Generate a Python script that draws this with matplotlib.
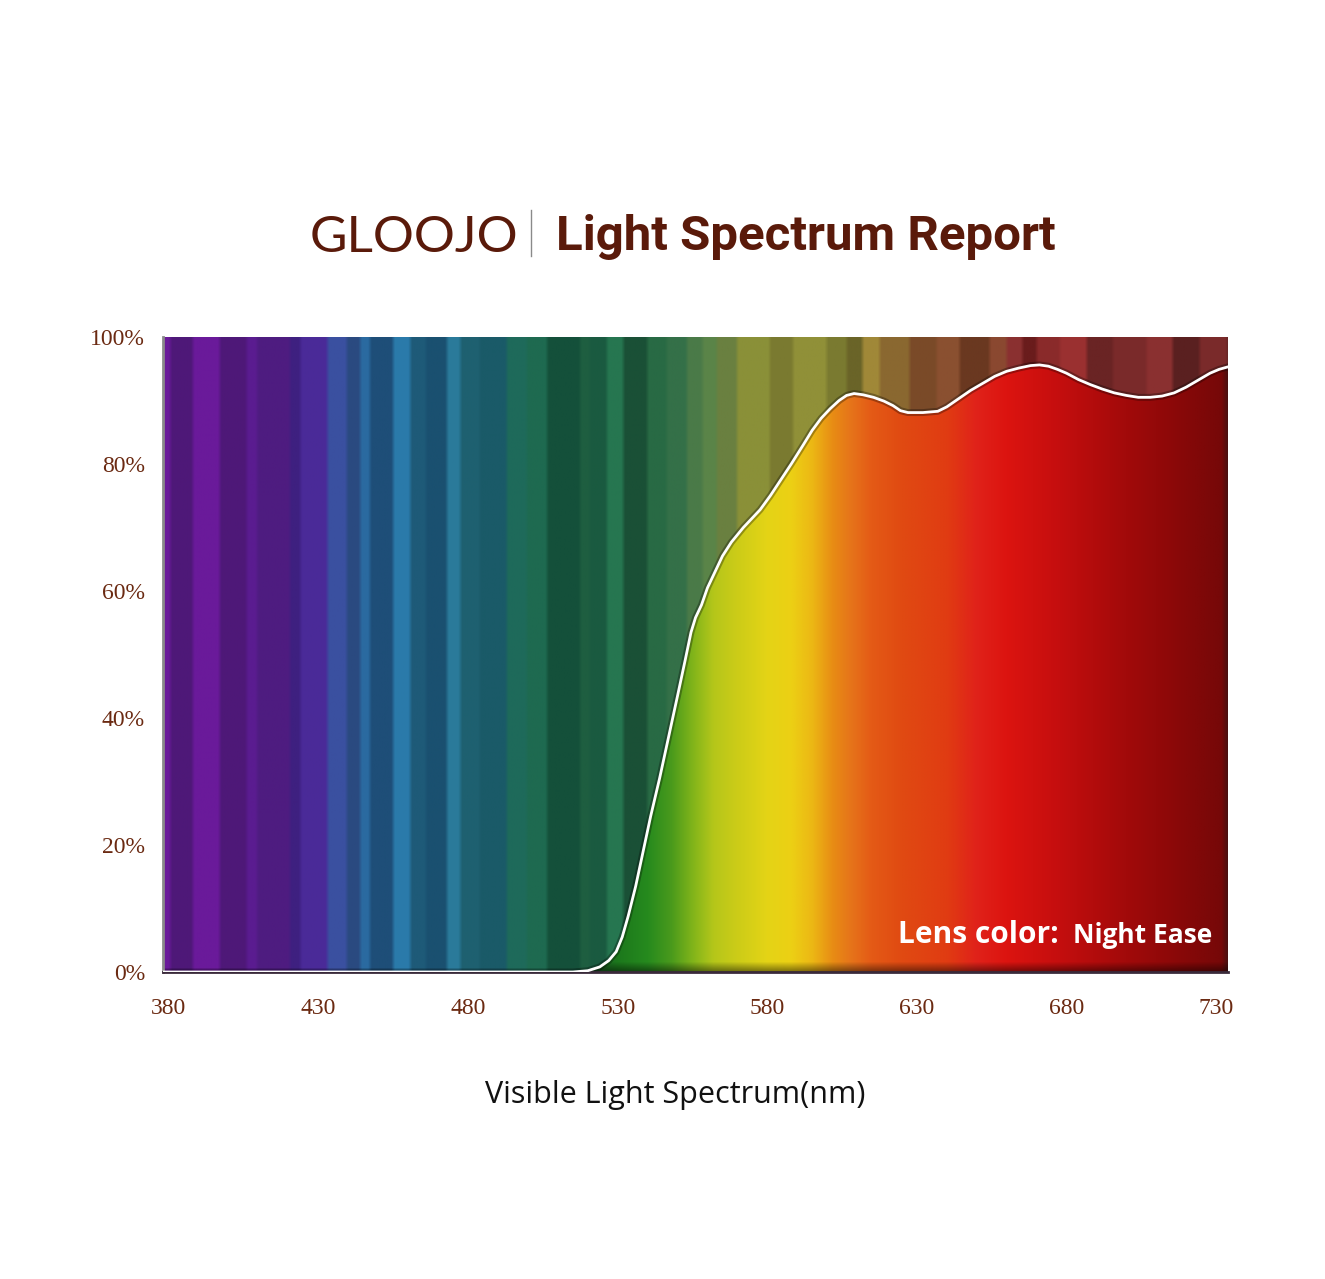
import numpy as np
import matplotlib
matplotlib.use('Agg')
import matplotlib.pyplot as plt
from matplotlib.colors import to_rgb
from matplotlib.lines import Line2D

# ---------------- data ----------------
wavelength = [378, 515, 520, 524, 527, 529.5, 531.5, 533.5, 536, 538.5, 541, 544, 547, 550,
              552.5, 554.5, 556, 558, 560, 562.5, 565, 568, 572, 577.6, 581, 584.5, 588, 592,
              595, 598, 601, 604, 606.5, 609, 612, 615.5, 619, 622, 624.5, 627, 632, 637, 640,
              644, 648, 652, 656, 660, 664, 668, 671, 674, 677, 680, 684, 688, 692, 696, 700,
              704, 708, 712, 716, 720, 724, 728, 731, 734]
transmittance = [0, 0, 0.2, 0.8, 1.8, 3.2, 5.5, 8.8, 13.5, 19, 24.5, 30.5, 37, 43.5,
                 49, 53.5, 55.8, 57.8, 60.5, 63, 65.5, 67.7, 70, 72.8, 75, 77.5, 80, 83,
                 85.3, 87.2, 88.7, 90, 90.8, 91.1, 90.9, 90.5, 89.9, 89.2, 88.4, 88.1, 88.1, 88.3, 89,
                 90.3, 91.6, 92.7, 93.8, 94.6, 95.1, 95.5, 95.6, 95.4, 94.9, 94.3, 93.3, 92.5, 91.8, 91.2, 90.8,
                 90.5, 90.5, 90.7, 91.2, 92.1, 93.2, 94.3, 94.9, 95.3]

x_ticks = [380, 430, 480, 530, 580, 630, 680, 730]
y_ticks = [0, 20, 40, 60, 80, 100]
y_tick_labels = ['0%', '20%', '40%', '60%', '80%', '100%']

brand = 'GLOOJO'
title = 'Light Spectrum Report'
lens_label = 'Lens color:'
lens_name = 'Night Ease'
x_label = 'Visible Light Spectrum(nm)'

# background stripes (decorative, dimmed spectrum)
bg_edges = [378, 380.3, 388, 397, 406, 409.4, 420.4, 423.8, 432.8, 439.5, 443.9, 447.2, 454.9,
            460.6, 466, 472.9, 477.3, 484, 493, 499.7, 506.4, 517.4, 520.7, 526.4, 531.8, 539.8, 546.5,
            553.2, 558.5, 563.2, 569.9, 580.9, 588.6, 600, 606.7, 612, 617.7, 627.7, 636.7,
            644.4, 654.5, 660.1, 665.5, 670.2, 677.9, 686.9, 695.6, 707, 715.6, 724.7, 734]
bg_colors = ['#6a1a9a', '#4e1878', '#6a1a9a', '#4e1878', '#5a1c90', '#4e1c80', '#3e2080',
             '#4a2a98', '#3a50a0', '#2a4a80', '#2a6aa0', '#1e4e78', '#2a7aaa', '#1e5a78', '#1a5070',
             '#2a7a9a', '#1e6070', '#1a5a68', '#1e6a5a', '#1e6a50', '#14503a', '#1e5e40', '#1a5a40', '#267650',
             '#1a5036', '#286a44', '#347048', '#4a7a48', '#5a8448', '#6a8040', '#8a9038',
             '#7a7a30', '#909038', '#7a7a30', '#6a6428', '#a08838', '#8a6830', '#7a4a28',
             '#8a5030', '#6a3820', '#8a4830', '#8a3030', '#6a1c1c', '#8a2a2a', '#9a3030',
             '#6a2424', '#7a2a2a', '#8a3030', '#5a2020', '#7a2a2a', '#5a2424']

# bright spectrum under the curve
fill_nm = [378, 520, 530, 540, 548, 555, 562, 570, 580, 588, 595, 602, 608, 615, 625, 640,
           650, 660, 678, 700, 720, 732, 734]
fill_colors = ['#1a5a2a', '#1a5a2a', '#1c781c', '#268a1e', '#4a9a1c', '#80b41a', '#b4c61a',
               '#cccc18', '#e4d416', '#ecd014', '#ecb814', '#e88c14', '#e6741a', '#e45a16',
               '#e04a12', '#e03c12', '#e0221a', '#dc1410', '#c40e0e', '#a20a0a', '#860808',
               '#760808', '#4a1010']

BROWN = '#5a1a0a'
TICK = '#6b2a12'

# ---------------- figure ----------------
W, H = 1325, 1279
fig = plt.figure(figsize=(W / 100, H / 100), dpi=100)
fig.patch.set_facecolor('white')
ax = fig.add_axes([163 / W, 1 - 972 / H, (1228 - 163) / W, (972 - 337) / H])
x0, x1 = 378, 734
ax.set_xlim(x0, x1)
ax.set_ylim(0, 100)

grid = np.arange(x0, x1 + 0.001, 0.25)

# background stripes
idx = np.clip(np.searchsorted(bg_edges, grid, side='right') - 1, 0, len(bg_colors) - 1)
rgb = np.array([to_rgb(c) for c in bg_colors])[idx]
k = np.ones(5) / 5
for c in range(3):
    rgb[:, c] = np.convolve(np.pad(rgb[:, c], 2, mode='edge'), k, mode='valid')
bg = np.repeat(rgb[np.newaxis], 2, axis=0)
ax.imshow(bg, extent=[x0, x1, 0, 100], origin='lower', aspect='auto',
          interpolation='bilinear', zorder=0)

# gradient fill under the curve
fr = np.array([to_rgb(c) for c in fill_colors])
cols = np.stack([np.interp(grid, fill_nm, fr[:, c]) for c in range(3)], axis=1)
yy = np.linspace(0, 100, 400)
shade = 0.55 + 0.45 * np.clip(yy / 1.5, 0, 1)
img = np.clip(cols[np.newaxis, :, :] * shade[:, None, None], 0, 1)
im = ax.imshow(img, extent=[x0, x1, 0, 100], origin='lower', aspect='auto',
               interpolation='bilinear', zorder=1)
poly = ax.fill_between(wavelength, transmittance, 0, facecolor='none', edgecolor='none')
im.set_clip_path(poly.get_paths()[0], ax.transData)

# curve with soft shadow
ax.plot(wavelength, transmittance, color='black', alpha=0.3, lw=5, zorder=2,
        solid_capstyle='round', solid_joinstyle='round')
ax.plot(wavelength, transmittance, color='white', lw=2, zorder=3,
        solid_capstyle='round', solid_joinstyle='round')

# axes styling
for s in ['top', 'right']:
    ax.spines[s].set_visible(False)
ax.spines['left'].set_color('#8a8a8a')
ax.spines['left'].set_linewidth(2)
ax.spines['bottom'].set_color('#3a2a3a')
ax.spines['bottom'].set_linewidth(2)

ax.set_xticks(x_ticks)
ax.set_xticklabels([str(v) for v in x_ticks])
ax.set_yticks(y_ticks)
ax.set_yticklabels(y_tick_labels)
ax.tick_params(axis='x', length=0, pad=19, labelsize=17, labelcolor=TICK)
ax.tick_params(axis='y', length=0, pad=13, labelsize=17, labelcolor=TICK)
for lab in ax.get_xticklabels() + ax.get_yticklabels():
    lab.set_family('Liberation Serif')

# lens label
fig.text(898 / W, 1 - 943 / H, lens_label, color='white', fontsize=21.5,
         fontweight='bold', family=['Open Sans', 'DejaVu Sans'], ha='left', va='baseline', zorder=10)
fig.text(1212 / W, 1 - 943 / H, lens_name, color='white', fontsize=19,
         fontweight='bold', family=['Open Sans', 'DejaVu Sans'], ha='right', va='baseline', zorder=10)

# header
fig.text(310 / W, 1 - 252 / H, brand, color=BROWN, fontsize=37, fontweight='normal',
         family=['Lato', 'DejaVu Sans'], ha='left', va='baseline')
fig.add_artist(Line2D([531 / W, 531 / W], [1 - 256 / H, 1 - 210 / H],
                      color='#8a8a8a', lw=1, transform=fig.transFigure))
fig.text(556 / W, 1 - 250 / H, title, color=BROWN, fontsize=35.5, fontweight='bold',
         family=['Roboto', 'DejaVu Sans'], fontstretch='condensed',
         ha='left', va='baseline')

# x label
fig.text(675 / W, 1 - 1095 / H, x_label, color='#111111', fontsize=22,
         family=['Open Sans', 'DejaVu Sans'], ha='center', va='center')

fig.savefig('out.png', dpi=100, facecolor='white')
